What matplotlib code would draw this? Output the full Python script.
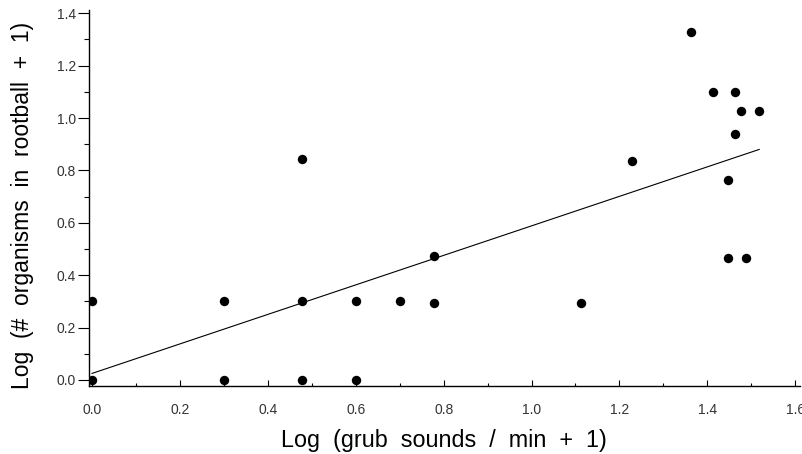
import matplotlib.pyplot as plt
from matplotlib.ticker import MultipleLocator

# grub sounds vs organisms, both log(x + 1)
grub_sounds = [0.0, 0.0, 0.30, 0.30, 0.477, 0.477, 0.477, 0.60, 0.60, 0.70,
               0.778, 0.778, 1.112, 1.229, 1.362, 1.414, 1.462, 1.477, 1.518,
               1.462, 1.446, 1.446, 1.489]
organisms = [0.30, 0.0, 0.30, 0.0, 0.842, 0.30, 0.0, 0.30, 0.0, 0.30,
             0.473, 0.295, 0.293, 0.834, 1.328, 1.099, 1.099, 1.027, 1.027,
             0.940, 0.765, 0.466, 0.466]

# regression line end points
fit_x = [0.0, 1.518]
fit_y = [0.025, 0.880]

plt.rcParams["font.family"] = ["Liberation Sans", "DejaVu Sans"]

fig = plt.figure(figsize=(8.03, 4.54), dpi=100)
ax = fig.add_axes([0.1108, 0.1498, 0.885, 0.828])

ax.plot(fit_x, fit_y, color="black", linewidth=0.8)
ax.scatter(grub_sounds, organisms, s=46, color="black", zorder=3, linewidths=0)

ax.set_xlim(-0.007, 1.61)
ax.set_ylim(-0.023, 1.412)

ax.spines["top"].set_visible(False)
ax.spines["right"].set_visible(False)
ax.spines["left"].set_linewidth(1.0)
ax.spines["bottom"].set_linewidth(1.0)

ax.xaxis.set_major_locator(MultipleLocator(0.2))
ax.xaxis.set_minor_locator(MultipleLocator(0.1))
ax.yaxis.set_major_locator(MultipleLocator(0.2))
ax.yaxis.set_minor_locator(MultipleLocator(0.1))
ax.xaxis.set_major_formatter(lambda v, p: f"{v:.1f}")
ax.yaxis.set_major_formatter(lambda v, p: f"{v:.1f}")

ax.tick_params(axis="x", which="major", direction="in", length=4, width=0.8,
               pad=12, labelsize=10, labelcolor="#333333")
ax.tick_params(axis="x", which="minor", direction="in", length=2.5, width=0.8)
ax.tick_params(axis="y", which="major", direction="out", length=8, width=0.8,
               pad=1.5, labelsize=10, labelcolor="#333333")
ax.tick_params(axis="y", which="minor", direction="out", length=3.5, width=0.8)

ax.set_xlabel("Log  (grub  sounds  /  min  +  1)", fontsize=16.8, labelpad=9)
ax.set_ylabel("Log  (#  organisms  in  rootball  +  1)", fontsize=16.5)
ax.yaxis.set_label_coords(-0.077, 0.48)

fig.savefig("out.png", dpi=100)
